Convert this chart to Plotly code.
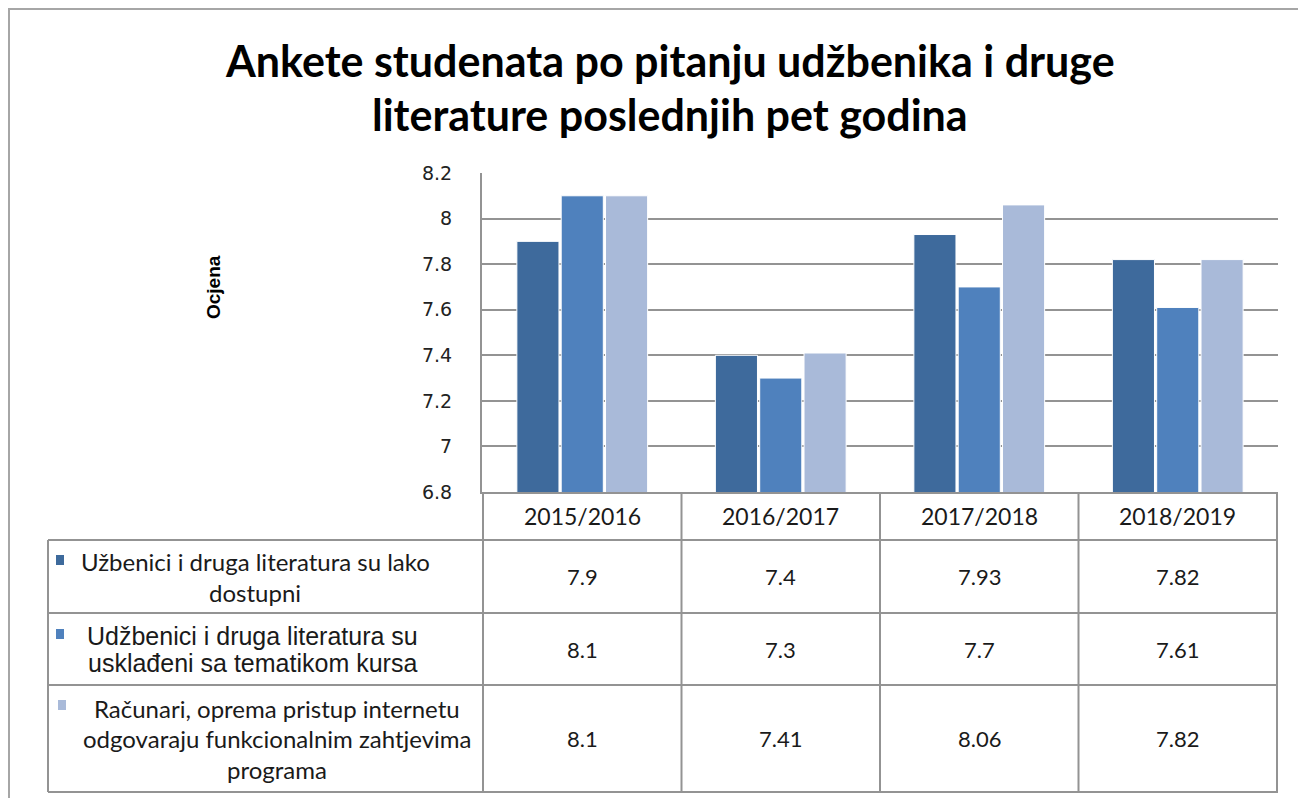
import plotly.graph_objects as go

# ---------------- data ----------------
categories = ["2015/2016", "2016/2017", "2017/2018", "2018/2019"]
series_names = [
    "Užbenici i druga literatura su lako<br>dostupni",
    "Udžbenici i druga literatura su<br>usklađeni sa tematikom kursa",
    "Računari, oprema pristup internetu<br>odgovaraju funkcionalnim zahtjevima<br>programa",
]
values_dostupni = [7.9, 7.4, 7.93, 7.82]
values_uskladjeni = [8.1, 7.3, 7.7, 7.61]
values_racunari = [8.1, 7.41, 8.06, 7.82]
y_ticks = [6.8, 7.0, 7.2, 7.4, 7.6, 7.8, 8.0, 8.2]
y_tick_labels = ["6.8", "7", "7.2", "7.4", "7.6", "7.8", "8", "8.2"]
title_lines = ["Ankete studenata po pitanju udžbenika i druge", "literature poslednjih pet godina"]
y_title = "Ocjena"

# ---------------- styles / layout ----------------
series_values = [values_dostupni, values_uskladjeni, values_racunari]
colors = ["#3E6A9C", "#4F81BD", "#A9BAD9"]
OFF = 8                      # page body margin of the html page
W, H = 1306 - OFF, 798 - OFF
L, R, T, B = 482, 1278, 173, 492     # plot area in screen pixels
GRID = "#939393"
TEXT = "#1a1a1a"


def px_x(px):
    return (px - L) / (R - L)


def px_y(py):
    return (B - py) / (B - T)


fig = go.Figure()
for name, vals, col in zip(series_names, series_values, colors):
    fig.add_trace(go.Bar(
        x=categories, y=vals, name=name.replace("<br>", " "),
        marker=dict(color=col, line=dict(color="white", width=1)),
    ))

# table geometry (pixels)
row_edges = [492, 540, 613, 685, 792]
tab_left = 48
label_font = [
    dict(family="Lato", size=24, color=TEXT),
    dict(family="Liberation Sans", size=25, color=TEXT),
    dict(family="Lato", size=24, color=TEXT),
]
label_center_x = [255, 252, 277]
label_line_gap = [31, 27, 30.5]
key_pos = [(60, 560), (60, 634), (62, 705)]

shapes = []
annotations = []

# outer chart border
shapes.append(dict(type="rect", xref="paper", yref="paper",
                   x0=px_x(9), x1=px_x(1304), y0=px_y(820), y1=px_y(9),
                   line=dict(color="#a6a6a6", width=2), layer="below"))

# table vertical lines at category boundaries
for i in range(len(categories) + 1):
    shapes.append(dict(type="line", xref="x", yref="paper",
                       x0=i - 0.5, x1=i - 0.5, y0=px_y(row_edges[0]), y1=px_y(row_edges[-1]),
                       line=dict(color=GRID, width=2)))
# table left edge
shapes.append(dict(type="line", xref="paper", yref="paper",
                   x0=px_x(tab_left), x1=px_x(tab_left), y0=px_y(row_edges[1]), y1=px_y(row_edges[-1]),
                   line=dict(color=GRID, width=2)))
# table horizontal lines
for e in row_edges[1:]:
    shapes.append(dict(type="line", xref="paper", yref="paper",
                       x0=px_x(tab_left), x1=1, y0=px_y(e), y1=px_y(e),
                       line=dict(color=GRID, width=2)))

# header (category labels)
for c in categories:
    annotations.append(dict(x=c, xref="x", y=px_y((row_edges[0] + row_edges[1]) / 2), yref="paper",
                            text=c, showarrow=False, font=dict(family="Lato", size=23, color=TEXT),
                            xanchor="center", yanchor="middle"))

# rows
for r, (name, vals, col) in enumerate(zip(series_names, series_values, colors)):
    yc = (row_edges[r + 1] + row_edges[r + 2]) / 2
    for c, v in zip(categories, vals):
        annotations.append(dict(x=c, xref="x", y=px_y(yc), yref="paper",
                                text=f"{v:g}", showarrow=False,
                                font=dict(family="Lato", size=22, color=TEXT),
                                xanchor="center", yanchor="middle"))
    lines = name.split("<br>")
    n = len(lines)
    for k, ln in enumerate(lines):
        ly = yc + (k - (n - 1) / 2) * label_line_gap[r]
        annotations.append(dict(x=px_x(label_center_x[r]), xref="paper", y=px_y(ly), yref="paper",
                                text=ln, showarrow=False, font=label_font[r],
                                xanchor="center", yanchor="middle"))
    kx, ky = key_pos[r]
    shapes.append(dict(type="rect", xref="paper", yref="paper",
                       x0=px_x(kx - 4), x1=px_x(kx + 4), y0=px_y(ky + 5), y1=px_y(ky - 5),
                       fillcolor=col, line=dict(width=0)))

# title lines
for ln, ty in zip(title_lines, [61, 114]):
    annotations.append(dict(x=px_x(670), xref="paper", y=px_y(ty), yref="paper",
                            text=ln, showarrow=False,
                            font=dict(family="Lato", size=43, color="#000", weight="bold"),
                            xanchor="center", yanchor="middle"))

# y axis title
annotations.append(dict(x=px_x(213), xref="paper", y=px_y(287), yref="paper",
                        text=y_title, textangle=-90, showarrow=False,
                        font=dict(family="Liberation Sans", size=19, color="#000", weight="bold"),
                        xanchor="center", yanchor="middle"))

fig.update_layout(
    width=W, height=H,
    margin=dict(l=L - OFF, r=W - (R - OFF), t=T - OFF, b=H - (B - OFF), pad=0),
    paper_bgcolor="white", plot_bgcolor="white",
    showlegend=False,
    barmode="group", bargap=0.33, bargroupgap=0.05,
    xaxis=dict(showticklabels=False, ticks="", showgrid=False, showline=True,
               linecolor=GRID, linewidth=2, zeroline=False),
    yaxis=dict(range=[6.8, 8.2], tickvals=y_ticks, ticktext=y_tick_labels,
               showgrid=True, gridcolor=GRID, gridwidth=2, showline=True,
               linecolor=GRID, linewidth=2, ticks="", ticklabelstandoff=24, zeroline=False,
               tickfont=dict(family="DejaVu Sans", size=19, color="#222")),
    shapes=shapes, annotations=annotations,
)

fig.write_html("out.html")
